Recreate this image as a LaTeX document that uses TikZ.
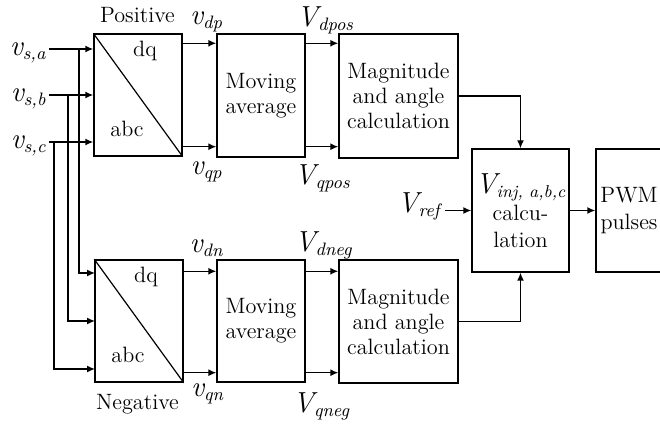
\documentclass[tikz,border=0pt]{standalone}
\usetikzlibrary{arrows.meta,calc}
\newcommand{\lbl}[2]{{\fontsize{14.5pt}{16pt}\selectfont\itshape #1}\raisebox{-2pt}{\fontsize{9pt}{10pt}\selectfont\itshape #2}}
\begin{document}
\begin{tikzpicture}[x=0.5pt,y=-0.5pt,
  box/.style={draw,line width=0.7pt,inner sep=0pt,align=center,font=\fontsize{11.1pt}{12.5pt}\selectfont},
  arr/.style={line width=0.7pt,-{Latex[length=4pt,width=3.5pt]}},
  txt/.style={inner sep=0pt,font=\fontsize{11.1pt}{12.5pt}\selectfont},
  lab/.style={inner sep=0pt}]
\useasboundingbox (0,0) rectangle (660,426);
% boxes
\node[box,minimum width=44pt,minimum height=61pt] (pos) at (138,95) {};
\node[box,minimum width=44pt,minimum height=61pt] (neg) at (139,321) {};
\node[box,minimum width=44pt,minimum height=61.5pt] (ma1) at (261,95.5) {Moving\\average};
\node[box,minimum width=44pt,minimum height=61pt] (ma2) at (261,321) {Moving\\average};
\node[box,minimum width=59.5pt,minimum height=62pt] (mag1) at (398.5,96) {Magnitude\\and angle\\calculation};
\node[box,minimum width=59.5pt,minimum height=61.5pt] (mag2) at (398.5,321.5) {Magnitude\\and angle\\calculation};
\node[box,minimum width=48.5pt,minimum height=61.5pt,font=\fontsize{11.1pt}{13.5pt}\selectfont] (inj) at (520.5,210.5) {{\fontsize{14.5pt}{16pt}\selectfont\itshape V}\raisebox{-2pt}{\fontsize{8.6pt}{10pt}\selectfont\itshape inj, a,b,c}\\calcu-\\lation};
\node[box,minimum width=33pt,minimum height=61.5pt,font=\fontsize{11.1pt}{13.5pt}\selectfont] (pwm) at (629,210.5) {PWM\\pulses};
\draw[line width=0.6pt] (pos.north west) -- (pos.south east);
\draw[line width=0.6pt] (neg.north west) -- (neg.south east);
% texts in transformation boxes
\node[txt,anchor=base] (dq1) at (145,57) {dq};
\node[txt,anchor=base] (abc1) at (127,137) {abc};
\node[txt,anchor=base] (dq2) at (146,283) {dq};
\node[txt,anchor=base] (abc2) at (128,363) {abc};
\node[txt,anchor=base] (ptxt) at (137.5,23) {Positive};
\node[txt,anchor=base] (ntxt) at (137.5,410) {Negative};
% input labels
\node[lab,anchor=base east] (la) at (46,56) {\lbl{v}{s,a}};
\node[lab,anchor=base east] (lb) at (46,102) {\lbl{v}{s,b}};
\node[lab,anchor=base east] (lc) at (46,149) {\lbl{v}{s,c}};
% signal labels
\node[lab,anchor=base] (vdp) at (206,25) {\lbl{v}{dp}};
\node[lab,anchor=base] (vqp) at (206,175) {\lbl{v}{qp}};
\node[lab,anchor=base] (vdn) at (206,253) {\lbl{v}{dn}};
\node[lab,anchor=base] (vqn) at (207,397) {\lbl{v}{qn}};
\node[lab,anchor=base] (vdpos) at (325,27) {\lbl{V}{dpos}};
\node[lab,anchor=base] (vqpos) at (322,185) {\lbl{V}{qpos}};
\node[lab,anchor=base] (vdneg) at (323,252) {\lbl{V}{dneg}};
\node[lab,anchor=base] (vqneg) at (321,413) {\lbl{V}{qneg}};
\node[lab,anchor=base east] (vref) at (440,213) {\lbl{V}{ref}};
% coordinates
\coordinate (ia) at (49,49);
\coordinate (ib) at (49,95);
\coordinate (ic) at (49,142);
\coordinate (ja) at (79,49);
\coordinate (jb) at (68,95);
\coordinate (jc) at (54,142);
\coordinate (na) at (95,273);
\coordinate (nb) at (95,321);
\coordinate (nc) at (95,369);
\coordinate (p1) at ([yshift=-5pt]pos.north east);
\coordinate (p2) at ([yshift=5pt]pos.south east);
\coordinate (n1) at ([yshift=-6pt]neg.north east);
\coordinate (n2) at ([yshift=5pt]neg.south east);
\coordinate (vr) at (445,210.5);
% connectors
\draw[arr] (ia) -- (ia -| pos.west);
\draw[arr] (ib) -- (ib -| pos.west);
\draw[arr] (ic) -- (ic -| pos.west);
\draw[arr] (ja) |- (na);
\draw[arr] (jb) |- (nb);
\draw[arr] (jc) |- (nc);
\draw[arr] (p1) -- (p1 -| ma1.west);
\draw[arr] (p2) -- (p2 -| ma1.west);
\draw[arr] (p1 -| ma1.east) -- (p1 -| mag1.west);
\draw[arr] (p2 -| ma1.east) -- (p2 -| mag1.west);
\draw[arr] (n1) -- (n1 -| ma2.west);
\draw[arr] (n2) -- (n2 -| ma2.west);
\draw[arr] (n1 -| ma2.east) -- (n1 -| mag2.west);
\draw[arr] (n2 -| ma2.east) -- (n2 -| mag2.west);
\draw[arr] (mag1.east) -| (inj.north);
\draw[arr] (mag2.east) -| (inj.south);
\draw[arr] (vr) -- (inj.west);
\draw[arr] (inj.east) -- (pwm.west);
\end{tikzpicture}
\end{document}
